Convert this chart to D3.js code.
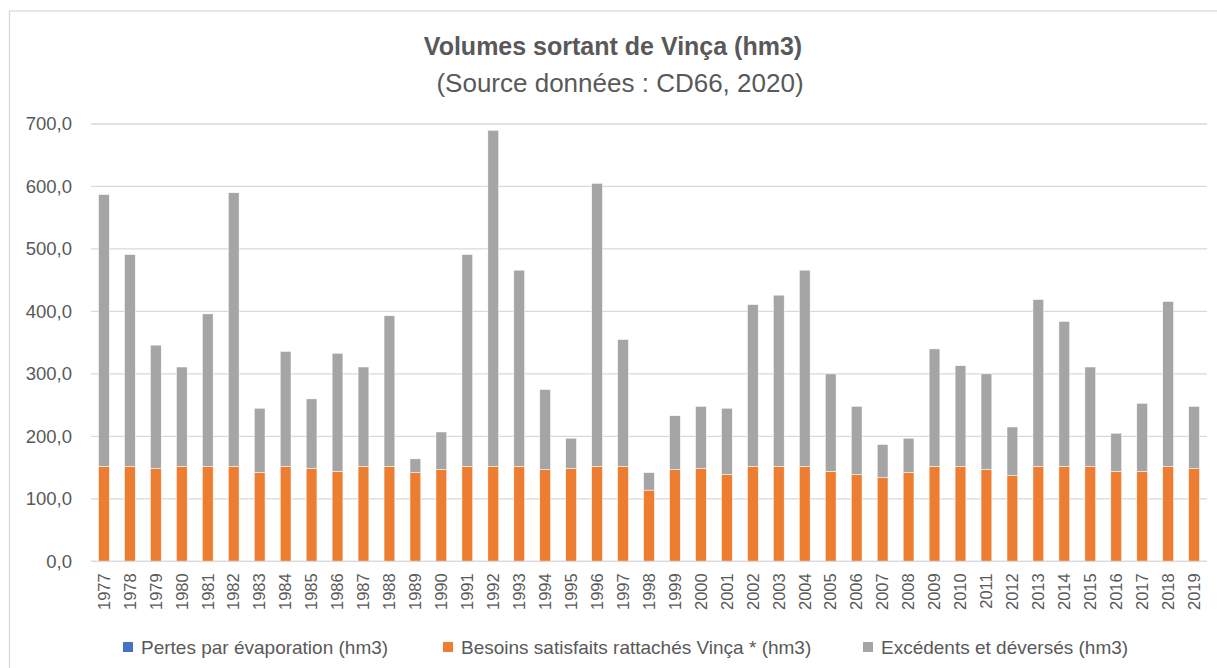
<!DOCTYPE html>
<html>
<head>
<meta charset="utf-8">
<script src="https://cdn.jsdelivr.net/npm/d3@7"></script>
<style>
  html, body { margin: 0; padding: 0; background: #fff; }
  svg { display: block; }
  text { font-family: "Liberation Sans", Arial, sans-serif; fill: #595959; }
</style>
</head>
<body>
<svg id="chart" width="1217" height="668"></svg>
<script>
// ---- Data ----
const years = ["1977","1978","1979","1980","1981","1982","1983","1984","1985","1986","1987","1988","1989","1990",
  "1991","1992","1993","1994","1995","1996","1997","1998","1999","2000","2001","2002","2003","2004","2005",
  "2006","2007","2008","2009","2010","2011","2012","2013","2014","2015","2016","2017","2018","2019"];
const pertes = [0,0,0,0,0,0,0,0,0,0,0,0,0,0,
  0,0,0,0,0,0,0,0,0,0,0,0,0,0,0,
  0,0,0,0,0,0,0,0,0,0,0,0,0,0];
const besoins = [152,152,149,152,152,152,142,152,149,144,152,152,142,147,
  152,152,152,147,149,152,152,114,147,149,139,152,152,152,144,
  139,134,142,152,152,147,137,152,152,152,144,144,152,149];
const excedents = [435,339,197,159,244,438,103,184,111,189,159,241,22,60,
  339,538,314,128,48,453,203,28,86,99,106,259,274,314,156,
  109,53,55,188,161,153,78,267,232,159,61,109,264,99];
const yTicks = [0,100,200,300,400,500,600,700];
const seriesNames = ["Pertes par évaporation (hm3)", "Besoins satisfaits rattachés Vinça * (hm3)", "Excédents et déversés (hm3)"];
const seriesColors = ["#4472C4", "#ED7D31", "#A5A5A5"];
const titleText = "Volumes sortant de Vinça (hm3)";
const subtitleText = "(Source données : CD66, 2020)";

// ---- Build ----
const svg = d3.select("#chart");
const W = 1217, H = 668;
const plot = { left: 91, right: 1207, top: 124, bottom: 561.3 };

// chart frame
svg.append("rect").attr("x", 9.5).attr("y", 11).attr("width", W).attr("height", H)
  .attr("fill", "none").attr("stroke", "#D9D9D9").attr("stroke-width", 1.3);

const rows = years.map((y, i) => ({ year: y, pertes: pertes[i], besoins: besoins[i], excedents: excedents[i] }));
const keys = ["pertes", "besoins", "excedents"];
const stacked = d3.stack().keys(keys)(rows);

const x = d3.scaleBand().domain(years).range([plot.left, plot.right]).paddingInner(0.585).paddingOuter(0.29);
const y = d3.scaleLinear().domain([0, 700]).range([plot.bottom, plot.top]);

// gridlines
svg.append("g").selectAll("line").data(yTicks).join("line")
  .attr("x1", plot.left).attr("x2", plot.right)
  .attr("y1", d => y(d)).attr("y2", d => y(d))
  .attr("stroke", "#D9D9D9").attr("stroke-width", 1.3);

// y axis labels
const yAxis = d3.axisLeft(y).tickValues(yTicks).tickSize(0).tickPadding(0)
  .tickFormat(d => d3.format(".1f")(d).replace(".", ","));
const gy = svg.append("g").attr("transform", `translate(${plot.left - 19},0)`).call(yAxis);
gy.select(".domain").remove();
gy.selectAll("text").attr("font-size", 18.5).attr("fill", "#595959")
  .style("font-family", "'Liberation Sans', Arial, sans-serif");

// bars
svg.append("g").selectAll("g").data(stacked).join("g")
  .attr("fill", (d, i) => seriesColors[i])
  .selectAll("rect").data(d => d).join("rect")
  .attr("x", d => x(d.data.year))
  .attr("width", x.bandwidth())
  .attr("y", d => y(d[1]))
  .attr("height", d => Math.max(0, y(d[0]) - y(d[1])))
  .attr("stroke", "#ffffff").attr("stroke-width", 0.5);

// x axis baseline
svg.append("line").attr("x1", plot.left).attr("x2", plot.right)
  .attr("y1", y(0)).attr("y2", y(0)).attr("stroke", "#D9D9D9").attr("stroke-width", 1.3);

// x axis labels (rotated)
const xAxis = d3.axisBottom(x).tickSize(0).tickPadding(0);
const gx = svg.append("g").attr("transform", `translate(0,${y(0)})`).call(xAxis);
gx.select(".domain").remove();
gx.selectAll("text")
  .attr("font-size", 16.5).attr("fill", "#595959")
  .style("font-family", "'Liberation Sans', Arial, sans-serif")
  .attr("text-anchor", "end")
  .attr("dy", "0.35em")
  .attr("transform", "translate(0,12) rotate(-90)")
  .attr("x", 0).attr("y", 0);

// titles
svg.append("text").attr("x", 613).attr("y", 55).attr("text-anchor", "middle")
  .attr("font-size", 25).attr("font-weight", "bold").text(titleText);
svg.append("text").attr("x", 620).attr("y", 92).attr("text-anchor", "middle")
  .attr("font-size", 26).text(subtitleText);

// legend
const legendX = [123, 443, 863];
const lg = svg.append("g");
seriesNames.forEach((name, i) => {
  lg.append("rect").attr("x", legendX[i]).attr("y", 642).attr("width", 10).attr("height", 10)
    .attr("fill", seriesColors[i]);
  lg.append("text").attr("x", legendX[i] + 18).attr("y", 653.5)
    .attr("font-size", 19).text(name);
});
</script>
</body>
</html>
